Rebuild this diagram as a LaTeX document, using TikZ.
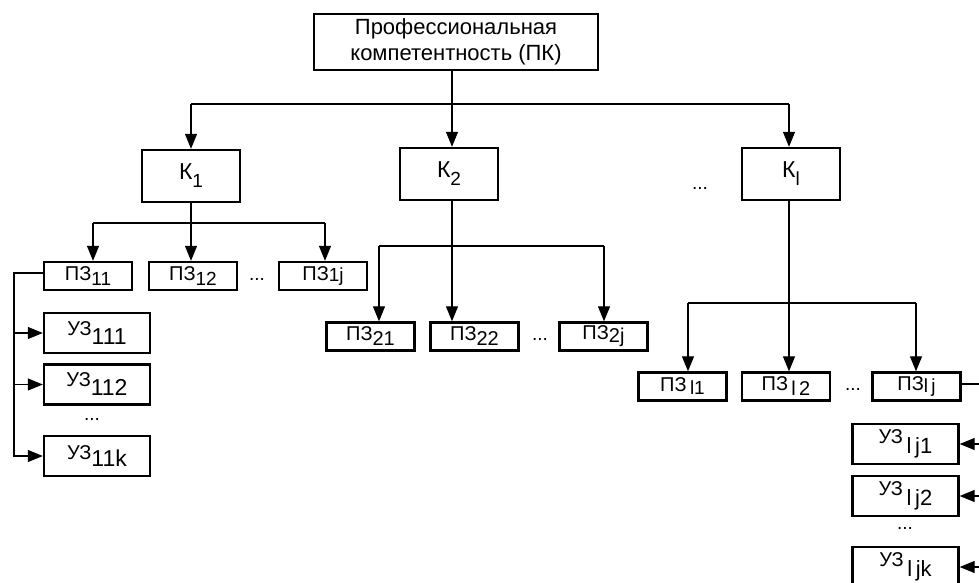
\documentclass[tikz,border=0pt]{standalone}
\usepackage{fontspec}
\setmainfont{Liberation Sans}
\usetikzlibrary{arrows.meta}
\newcommand{\lo}[3]{\raisebox{-#1pt}{\fontsize{#2}{#2}\selectfont #3}}
\tikzset{
  box/.style={draw, line width=2.4pt, inner sep=0pt, anchor=center, font=\fontsize{20}{20}\selectfont},
  kbox/.style={box, minimum width=98pt, minimum height=52pt, font=\fontsize{23}{23}\selectfont},
  pbox/.style={box, minimum width=88pt, minimum height=28pt},
  ubox/.style={box, minimum width=106pt, minimum height=40pt},
  conn/.style={line width=1.2pt},
  arr/.style={conn, -{Triangle[length=15pt,width=12pt]}},
  dots/.style={font=\fontsize{19}{19}\selectfont, inner sep=0pt}
}
\begin{document}
\begin{tikzpicture}[x=1pt,y=-1pt]
\useasboundingbox (0,0) rectangle (979,583);
\clip (0,0) rectangle (979,583);
\fill[white] (0,0) rectangle (979,583);
% nodes
\node[box, minimum width=284pt, minimum height=56pt, align=center, font=\fontsize{22}{26}\selectfont] (top) at (456,42) {Профессиональная\\компетентность (ПК)};
\node[kbox] (K1) at (191,176) {К\lo{8}{19}{1}};
\node[kbox] (K2) at (449,174) {К\lo{8}{19}{2}};
\node[kbox] (Kl) at (791,174) {К\lo{8}{19}{l}};
\node[dots] (d0) at (700,188) {...};
\node[pbox] (p11) at (88,276) {ПЗ\lo{5}{19}{11}};
\node[pbox] (p12) at (193,276) {ПЗ\lo{5}{19}{12}};
\node[dots] (d1) at (257,279) {...};
\node[pbox] (p1j) at (323,276) {ПЗ\lo{1}{19}{1j}};
\node[ubox] (u111) at (97,333) {УЗ\lo{9}{23}{111}};
\node[ubox] (u112) at (97,384.5) {УЗ\lo{9}{23}{112}};
\node[dots] (d2) at (92,419) {...};
\node[ubox] (u11k) at (97,456) {УЗ\lo{7}{23}{11k}};
\node[pbox] (p21) at (370.5,336.5) {ПЗ\lo{5}{20}{21}};
\node[pbox] (p22) at (474.5,336.5) {ПЗ\lo{5}{20}{22}};
\node[dots] (d3) at (540,339) {...};
\node[pbox] (p2j) at (603.5,336.5) {ПЗ\lo{3}{20}{2j}};
\node[pbox] (pl1) at (682.5,386.5) {ПЗ\,\lo{3}{19}{l1}};
\node[pbox] (pl2) at (786,386.5) {ПЗ\,\lo{5}{20}{l\,2}};
\node[dots] (d4) at (853,389) {...};
\node[pbox] (plj) at (916.5,386.5) {ПЗ\lo{2}{19}{l\,j}};
\node[ubox] (ulj1) at (905.5,444) {УЗ\lo{10}{22}{\,l\,j1}};
\node[ubox] (ulj2) at (905.5,496) {УЗ\lo{10}{22}{\,l\,j2}};
\node[dots] (d5) at (905,528) {...};
\node[ubox] (uljk) at (905.5,567) {УЗ\lo{10}{22}{\,l\,jk}};
% level 1
\coordinate (t1) at (452,104);
\coordinate (bA) at (191,104);
\coordinate (bC) at (789,104);
\draw[arr] (t1 |- top.south) -- (t1 |- K2.north);
\draw[conn] (bA) -- (bC);
\draw[arr] (bA) -- (bA |- K1.north);
\draw[arr] (bC) -- (bC |- Kl.north);
% K1 branch
\coordinate (c1L) at (93,223);
\coordinate (c1R) at (325,223);
\draw[arr] (K1.south) -- (K1.south |- p12.north);
\draw[conn] (c1L) -- (c1R);
\draw[arr] (c1L) -- (c1L |- p11.north);
\draw[arr] (c1R) -- (c1R |- p1j.north);
\coordinate (f1) at (14,273);
\draw[arr] (p11.west |- f1) -- (f1) |- (u11k.west);
\draw[arr] (f1 |- u111.west) -- (u111.west);
\draw[arr] (f1 |- u112.west) -- (u112.west);
% K2 branch
\coordinate (c2L) at (379,246);
\coordinate (c2R) at (604,246);
\draw[arr] (t1 |- K2.south) -- (t1 |- p22.north);
\draw[conn] (c2L) -- (c2R);
\draw[arr] (c2L) -- (c2L |- p21.north);
\draw[arr] (c2R) -- (c2R |- p2j.north);
% Kl branch
\coordinate (c3L) at (688,303);
\coordinate (c3R) at (916,303);
\draw[arr] (bC |- Kl.south) -- (bC |- pl2.north);
\draw[conn] (c3L) -- (c3R);
\draw[arr] (c3L) -- (c3L |- pl1.north);
\draw[arr] (c3R) -- (c3R |- plj.north);
\coordinate (f2) at (992,384);
\draw[conn] (plj.east |- f2) -- (f2) -- (f2 |- uljk.east);
\draw[arr] (f2 |- ulj1.east) -- (ulj1.east);
\draw[arr] (f2 |- ulj2.east) -- (ulj2.east);
\draw[arr] (f2 |- uljk.east) -- (uljk.east);
\end{tikzpicture}
\end{document}
